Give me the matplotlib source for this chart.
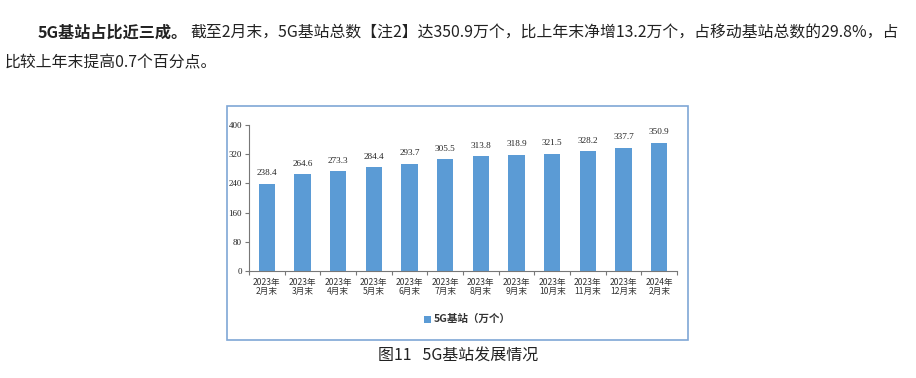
import matplotlib
matplotlib.use("Agg")
import matplotlib.pyplot as plt
import matplotlib.patches as mpatches

plt.rcParams['font.family'] = ['Noto Sans CJK SC', 'DejaVu Sans']

# data
months = ["2023年\n2月末", "2023年\n3月末", "2023年\n4月末", "2023年\n5月末",
          "2023年\n6月末", "2023年\n7月末", "2023年\n8月末", "2023年\n9月末",
          "2023年\n10月末", "2023年\n11月末", "2023年\n12月末", "2024年\n2月末"]
values = [238.4, 264.6, 273.3, 284.4, 293.7, 305.5, 313.8, 318.9, 321.5, 328.2, 337.7, 350.9]
y_ticks = [0, 80, 160, 240, 320, 400]

W, H = 916, 378
bar_color = "#5B9BD5"
frame_color = "#7FA7D6"
text_color = "#222222"


def px(x, y):
    return x / W, 1 - y / H


fig = plt.figure(figsize=(W / 100, H / 100), dpi=100, facecolor="white")

# paragraph text above the chart
fig.text(*px(38, 33), "5G基站占比近三成。", fontsize=11.6, fontweight="bold",
         color=text_color, va="center", ha="left")
fig.text(*px(190, 33), "截至2月末，5G基站总数【注2】达350.9万个，比上年末净增13.2万个，占移动基站总数的29.8%，占",
         fontsize=11.4, color=text_color, va="center", ha="left")
fig.text(*px(5, 63), "比较上年末提高0.7个百分点。", fontsize=11.4, color=text_color,
         va="center", ha="left")

# chart frame (behind the axes)
x0, y0 = px(227, 340)
x1, y1 = px(688, 106)
frame = mpatches.Rectangle((x0, y0), x1 - x0, y1 - y0, transform=fig.transFigure,
                           facecolor="white", edgecolor=frame_color, linewidth=1.2, zorder=-5)
fig.patches.append(frame)

# bar axes
ax_l, ax_b = px(249, 271)
ax_r, ax_t = px(677, 125)
ax = fig.add_axes([ax_l, ax_b, ax_r - ax_l, ax_t - ax_b])
ax.set_facecolor("none")
ax.set_zorder(2)

xs = range(len(values))
ax.bar(xs, values, width=0.46, color=bar_color, zorder=2)
for x, v in zip(xs, values):
    ax.text(x, v + 18, f"{v:.1f}", ha="center", va="bottom", fontsize=6.6,
            family=["Liberation Serif", "Noto Sans CJK SC"], color=text_color)

ax.set_xlim(-0.5, len(values) - 0.5)
ax.set_ylim(0, 400)
ax.set_yticks(y_ticks)
ax.set_yticklabels([str(t) for t in y_ticks], family=["Liberation Serif"], fontsize=6.5)
ax.set_xticks([i - 0.5 for i in range(len(values) + 1)])
ax.set_xticklabels([])
ax.set_xticks(list(xs), minor=True)
ax.set_xticklabels(months, minor=True, fontsize=6.2, color="#333333", linespacing=1.05)
ax.tick_params(axis="x", which="minor", length=0, pad=5)
ax.tick_params(axis="x", which="major", length=3, color="#777777")
ax.tick_params(axis="y", length=3, color="#777777", pad=2, labelcolor=text_color)
for s in ["top", "right"]:
    ax.spines[s].set_visible(False)
for s in ["left", "bottom"]:
    ax.spines[s].set_color("#777777")
    ax.spines[s].set_linewidth(0.8)

# legend
lx, ly = px(427, 319)
fig.patches.append(mpatches.Rectangle((lx - 3.5 / W, ly - 3.5 / H), 7 / W, 7 / H,
                                      transform=fig.transFigure, facecolor=bar_color))
fig.text(*px(434, 319), "5G基站（万个）", fontsize=7.6, fontweight="bold", color="#333333",
         va="center", ha="left")

# caption
fig.text(*px(458, 355), "图11   5G基站发展情况", fontsize=11.5, color=text_color,
         va="center", ha="center")

fig.savefig("out.png", dpi=100, facecolor="white")
